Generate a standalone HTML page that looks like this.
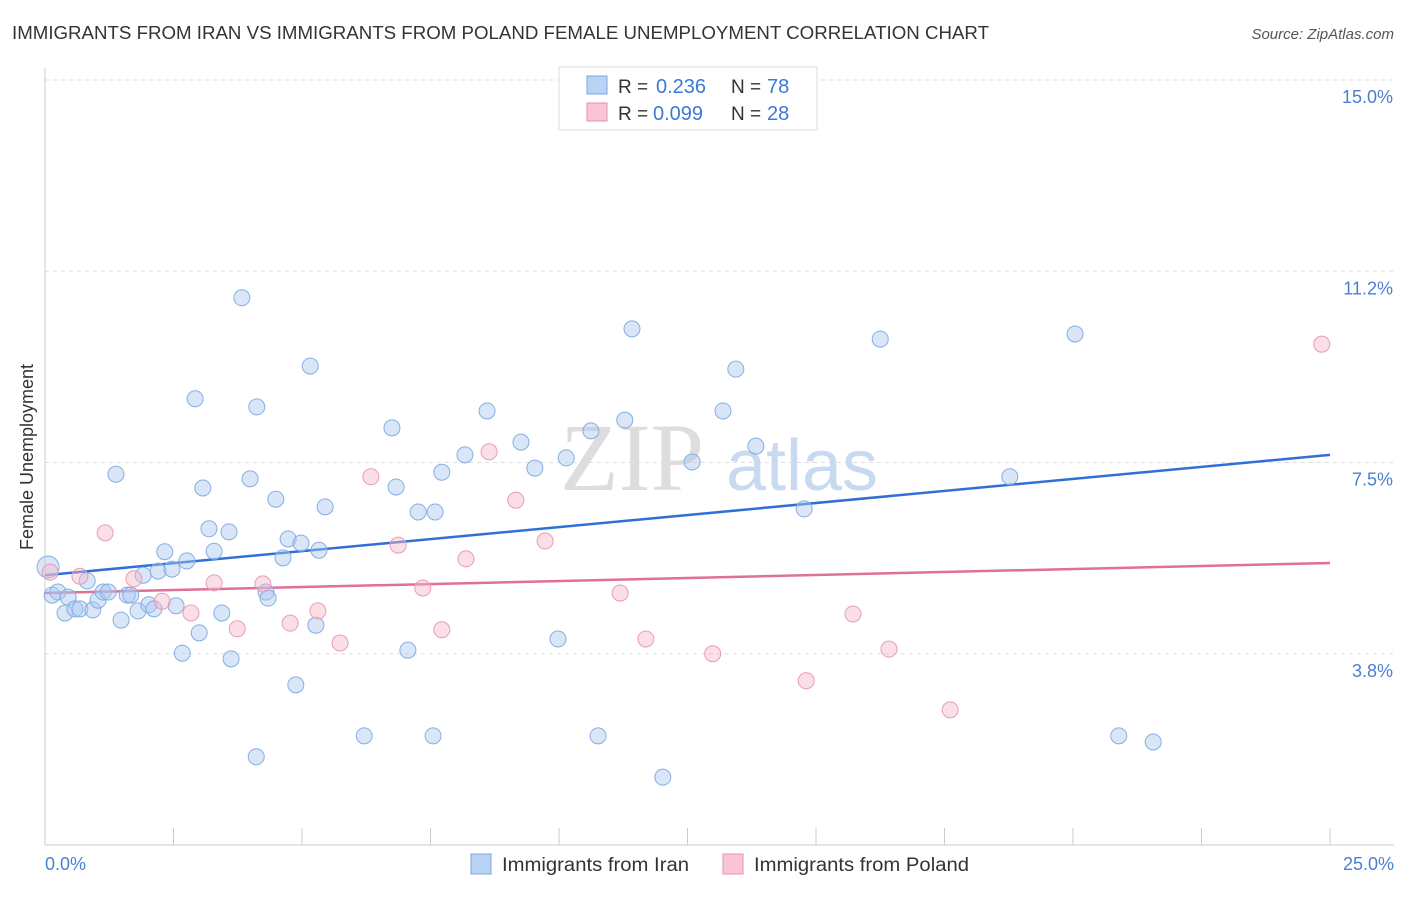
<!DOCTYPE html>
<html><head><meta charset="utf-8">
<style>
body{margin:0;background:#fff;font-family:"Liberation Sans",sans-serif;}
svg text{font-family:"Liberation Sans",sans-serif;}
</style></head>
<body>
<svg id="chart" width="1406" height="892" viewBox="0 0 1406 892" xmlns="http://www.w3.org/2000/svg">
<text x="12" y="39" font-size="18" fill="#333" textLength="977" lengthAdjust="spacingAndGlyphs">IMMIGRANTS FROM IRAN VS IMMIGRANTS FROM POLAND FEMALE UNEMPLOYMENT CORRELATION CHART</text>
<text x="1394" y="39" font-size="15" fill="#555" text-anchor="end" font-style="italic">Source: ZipAtlas.com</text>
<g id="grid"></g>
<g>
<text x="632" y="490" font-size="96" fill="#ddd" text-anchor="middle" font-family="Liberation Serif" style="font-family:'Liberation Serif',serif">ZIP</text>
<text x="802" y="490" font-size="72" fill="#c9daf0" text-anchor="middle">atlas</text>
</g>
<line x1="45" y1="68" x2="45" y2="845" stroke="#ccc"/>
<line x1="45" y1="845" x2="1394" y2="845" stroke="#ccc"/>
<g id="xticks"></g>
<g id="ylabels"></g>
<text x="45" y="870" font-size="18" fill="#4a7fd4">0.0%</text>
<text x="1394" y="870" font-size="18" fill="#4a7fd4" text-anchor="end">25.0%</text>
<text transform="translate(33,457) rotate(-90)" font-size="18" fill="#333" text-anchor="middle">Female Unemployment</text>
<g id="lines"></g>
<g id="pts"></g>
<g>
<rect x="559" y="67" width="258" height="63" fill="#fff" stroke="#ddd"/>
<rect x="587" y="76" width="20" height="18" fill="#b9d3f5" stroke="#7aa6e0"/>
<rect x="587" y="103" width="20" height="18" fill="#f9c6d5" stroke="#e890ac"/>
<text x="618" y="93" font-size="19" fill="#333">R =</text>
<text x="656" y="93" font-size="20" fill="#3b78d8">0.236</text>
<text x="731" y="93" font-size="19" fill="#333">N =</text>
<text x="767" y="93" font-size="20" fill="#3b78d8">78</text>
<text x="618" y="120" font-size="19" fill="#333">R =</text>
<text x="653" y="120" font-size="20" fill="#3b78d8">0.099</text>
<text x="731" y="120" font-size="19" fill="#333">N =</text>
<text x="767" y="120" font-size="20" fill="#3b78d8">28</text>
</g>
<g>
<rect x="471" y="854" width="20" height="20" fill="#b9d3f5" stroke="#7aa6e0"/>
<text x="502" y="871" font-size="19" fill="#333" textLength="187" lengthAdjust="spacingAndGlyphs">Immigrants from Iran</text>
<rect x="723" y="854" width="20" height="20" fill="#f9c6d5" stroke="#e890ac"/>
<text x="754" y="871" font-size="19" fill="#333" textLength="215" lengthAdjust="spacingAndGlyphs">Immigrants from Poland</text>
</g>
</svg>
<script>
const yTicks=[15.0,11.25,7.5,3.75];
const yTickLabels=["15.0%","11.2%","7.5%","3.8%"];
const xTicks=[0,2.5,5,7.5,10,12.5,15,17.5,20,22.5,25];
const iranX=[0.06,0.14,0.25,0.39,0.45,0.58,0.68,0.82,0.93,1.03,1.13,1.23,1.38,1.48,1.60,1.67,1.81,1.91,2.02,2.12,2.20,2.33,2.47,2.55,2.67,2.76,2.92,3.00,3.07,3.19,3.29,3.44,3.58,3.62,3.83,3.99,4.11,4.12,4.30,4.34,4.49,4.63,4.73,4.88,4.98,5.16,5.27,5.33,5.45,6.21,6.75,6.83,7.06,7.26,7.55,7.59,7.72,8.17,8.60,9.26,9.53,9.98,10.14,10.62,10.76,11.28,11.42,12.02,12.59,13.19,13.44,13.83,14.77,16.25,18.77,20.04,20.89,21.56];
const iranY=[5.45,4.90,4.96,4.55,4.86,4.63,4.63,5.18,4.61,4.80,4.96,4.96,7.27,4.41,4.90,4.90,4.59,5.29,4.71,4.63,5.37,5.75,5.41,4.69,3.76,5.57,8.75,4.16,7.00,6.20,5.76,4.55,6.14,3.65,10.73,7.18,1.73,8.59,4.96,4.84,6.78,5.63,6.00,3.14,5.92,9.39,4.31,5.78,6.63,2.14,8.18,7.02,3.82,6.53,2.14,6.53,7.31,7.65,8.51,7.90,7.39,4.04,7.59,8.12,2.14,8.33,10.12,1.33,7.51,8.51,9.33,7.82,6.59,9.92,7.22,10.02,2.14,2.02];
const polX=[0.10,0.68,1.17,1.73,2.28,2.84,3.29,3.74,4.24,4.77,5.31,5.74,6.34,6.87,7.35,7.72,8.19,8.64,9.16,9.73,11.19,11.69,12.99,14.81,15.72,16.42,17.61,24.84];
const polY=[5.35,5.27,6.12,5.22,4.78,4.55,5.14,4.24,5.12,4.35,4.59,3.96,7.22,5.88,5.04,4.22,5.61,7.71,6.76,5.96,4.94,4.04,3.75,3.22,4.53,3.84,2.65,9.82];
const iranTrend=[5.29,7.65];
const polTrend=[4.94,5.53];
const sx=v=>45+v*51.4;
const sy=v=>80+(15-v)*51;
const NS="http://www.w3.org/2000/svg";
function mk(tag,attrs,parent){const e=document.createElementNS(NS,tag);for(const k in attrs)e.setAttribute(k,attrs[k]);parent.appendChild(e);return e;}
const grid=document.getElementById('grid'),yl=document.getElementById('ylabels'),xt=document.getElementById('xticks');
yTicks.forEach((t,i)=>{
 const l=mk('line',{x1:45,x2:1394,y1:sy(t),y2:sy(t),stroke:'#ddd','stroke-dasharray':'4,4'},grid);
 
 
 const tx=mk('text',{x:1393,y:sy(t)+23,'font-size':18,fill:'#4a7fd4','text-anchor':'end'},yl);
 tx.textContent=yTickLabels[i];
 
 
});
xTicks.forEach(t=>{
 const l=mk('line',{x1:sx(t),x2:sx(t),y1:828,y2:845,stroke:'#ccc'},xt);
 
 
});
const pts=document.getElementById('pts');
iranX.forEach((x,i)=>{
 const c=mk('circle',{cx:sx(x),cy:sy(iranY[i]),r:i===0?11:8,fill:'rgba(169,200,240,0.45)',stroke:'#86aee3','stroke-width':1},pts);
 
 
});
polX.forEach((x,i)=>{
 const c=mk('circle',{cx:sx(x),cy:sy(polY[i]),r:8,fill:'rgba(245,183,201,0.45)',stroke:'#eb9bb5','stroke-width':1},pts);
 
 
});
const lines=document.getElementById('lines');
const a=mk('line',{x1:sx(0),x2:sx(25),y1:sy(iranTrend[0]),y2:sy(iranTrend[1]),stroke:'#2f6fd6','stroke-width':2.5},lines);


const b=mk('line',{x1:sx(0),x2:sx(25),y1:sy(polTrend[0]),y2:sy(polTrend[1]),stroke:'#e0709a','stroke-width':2.5},lines);


</script>
</body></html>
